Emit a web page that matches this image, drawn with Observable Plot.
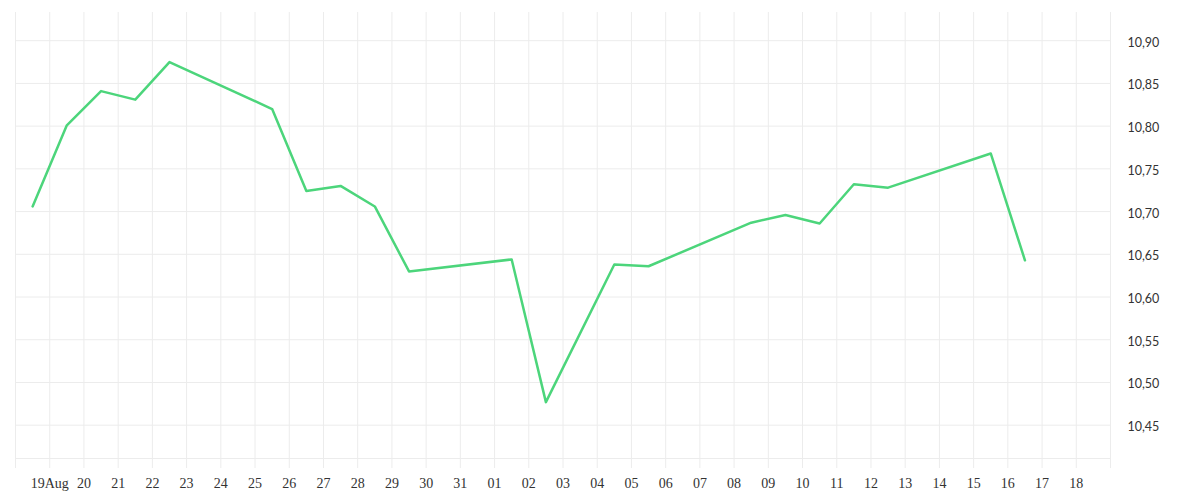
<!DOCTYPE html>
<html>
<head>
<meta charset="utf-8">
<script src="https://cdn.jsdelivr.net/npm/d3@7"></script>
<script src="https://cdn.jsdelivr.net/npm/@observablehq/plot@0.6"></script>
<style>
  html, body { margin: 0; padding: 0; background: #fff; }
  #chart svg { display: block; }
</style>
</head>
<body>
<div id="chart"></div>
<script>
const dates = [
  "2014-08-18T12:00Z", "2014-08-19T12:00Z", "2014-08-20T12:00Z", "2014-08-21T12:00Z", "2014-08-22T12:00Z",
  "2014-08-25T12:00Z", "2014-08-26T12:00Z", "2014-08-27T12:00Z", "2014-08-28T12:00Z", "2014-08-29T12:00Z",
  "2014-09-01T12:00Z", "2014-09-02T12:00Z", "2014-09-04T12:00Z", "2014-09-05T12:00Z",
  "2014-09-08T12:00Z", "2014-09-09T12:00Z", "2014-09-10T12:00Z", "2014-09-11T12:00Z", "2014-09-12T12:00Z",
  "2014-09-15T12:00Z", "2014-09-16T12:00Z"
];
const values = [
  10.706, 10.801, 10.841, 10.831, 10.875,
  10.820, 10.724, 10.730, 10.706, 10.630,
  10.644, 10.477, 10.638, 10.636,
  10.687, 10.696, 10.686, 10.732, 10.728,
  10.768, 10.643
];
const xDomain = ["2014-08-18", "2014-09-19"];
const yDomain = [10.411, 10.933];
const yTicks = [10.45, 10.50, 10.55, 10.60, 10.65, 10.70, 10.75, 10.80, 10.85, 10.90];
const firstTickLabel = "19Aug";

const data = dates.map((d, i) => ({date: new Date(d), value: values[i]}));
const xStart = new Date(xDomain[0] + "T00:00Z");
const xEnd = new Date(xDomain[1] + "T00:00Z");
const xTicks = d3.utcDay.range(xStart, d3.utcDay.offset(xEnd, 1));
const innerTicks = xTicks.slice(1, -1);

const fmtX = (d) => {
  if (+d === +innerTicks[0]) return firstTickLabel;
  if (+d === +xStart || +d === +xEnd) return "";
  return d3.utcFormat("%d")(d);
};
const fmtY = (v) => v.toFixed(2).replace(".", ",");
const gridColor = "#ececec";

const chart = Plot.plot({
  width: 1200,
  height: 500,
  marginTop: 12,
  marginBottom: 42,
  marginLeft: 15,
  marginRight: 90,
  x: {type: "utc", domain: [xStart, xEnd]},
  y: {domain: yDomain},
  marks: [
    Plot.gridY(yTicks, {stroke: gridColor, strokeOpacity: 1}),
    Plot.ruleY([yDomain[0]], {stroke: gridColor}),
    Plot.gridX(xTicks, {stroke: gridColor, strokeOpacity: 1}),
    Plot.axisX(xTicks, {
      tickSize: 10, tickPadding: 10, stroke: gridColor, fill: "#333",
      tickFormat: fmtX, label: null,
      fontFamily: "Liberation Serif", fontSize: 14
    }),
    Plot.axisY(yTicks, {
      anchor: "right", tickSize: 0, tickPadding: 17, textAnchor: "start",
      tickFormat: fmtY, label: null, fill: "#333", dy: 2,
      fontFamily: "Lato", fontSize: 12.5
    }),
    Plot.lineY(data, {x: "date", y: "value", stroke: "#4cd57b", strokeWidth: 2.5})
  ]
});
document.getElementById("chart").append(chart);
</script>
</body>
</html>
